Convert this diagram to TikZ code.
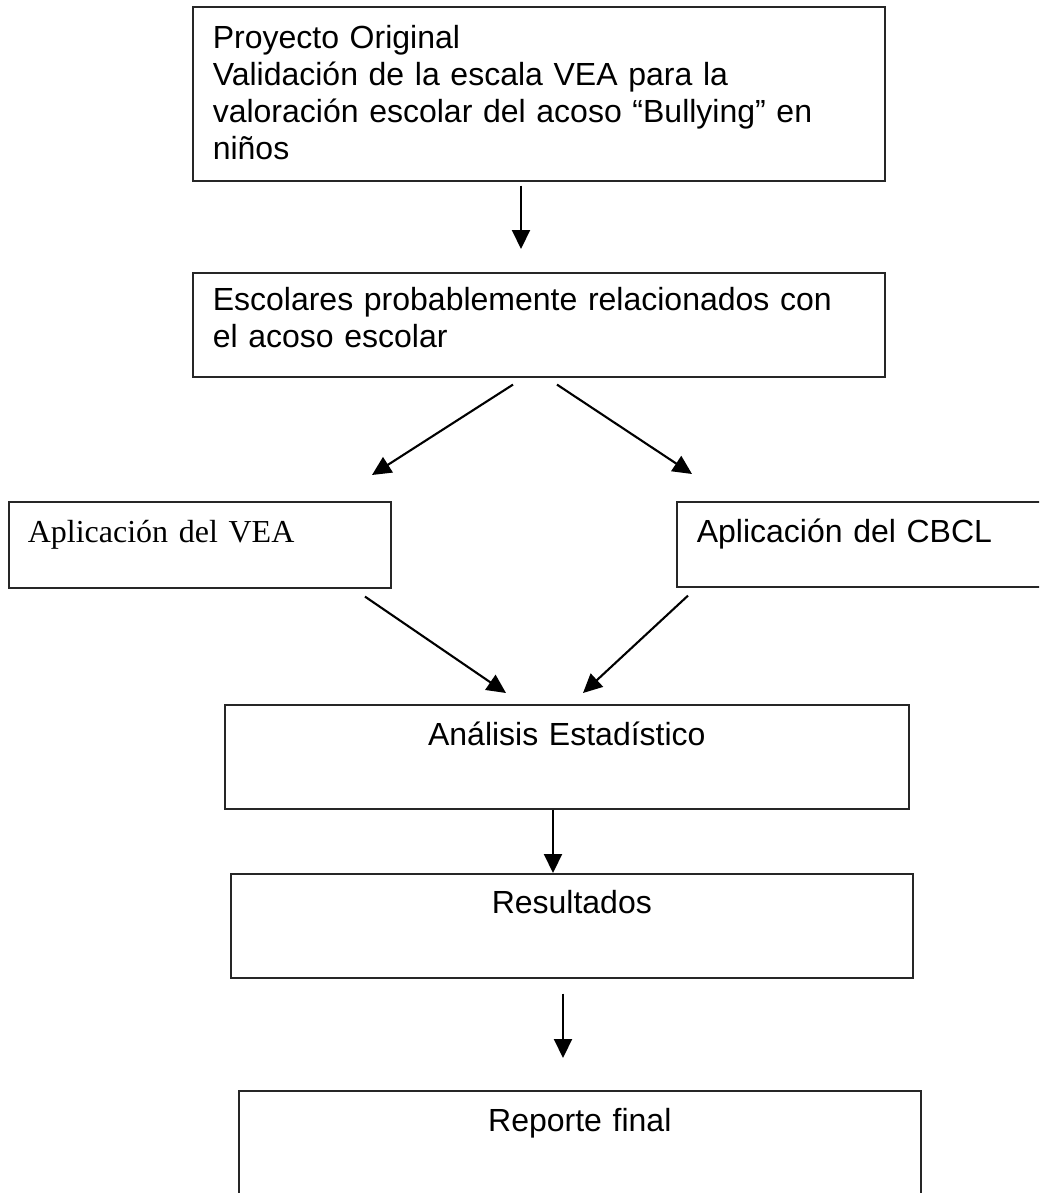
\documentclass[tikz,border=0pt]{standalone}
\usepackage{fontspec}
\setmainfont{Liberation Sans}
\newfontfamily\timesfont{Liberation Serif}
\usetikzlibrary{arrows.meta,calc}
\begin{document}
\begin{tikzpicture}[x=1pt,y=-1pt,
  box/.style={draw=black!85, line width=1.6pt, inner ysep=0pt, anchor=north west,
    font=\fontsize{32}{37}\selectfont},
  arr/.style={line width=2.1pt, -{Triangle[length=19pt,width=18pt]}}]
\useasboundingbox[fill=white] (0,0) rectangle (1039,1193);
\clip (0,0) rectangle (1039,1193);
\node[box, inner xsep=20pt, text width=652pt, align=left, text height=42pt, text depth=132pt] (b1) at (192,6)
  {Proyecto Original\\Validación de la escala VEA para la\\valoración escolar del acoso “Bullying” en\\niños};
\node[box, inner xsep=20pt, text width=652pt, align=left, text height=38pt, text depth=66pt] (b2) at (192,272)
  {Escolares probablemente relacionados con\\el acoso escolar};
\node[box, inner xsep=19pt, text width=344pt, align=left, text height=41pt, text depth=45pt,
  font=\timesfont\fontsize{32}{37}\selectfont] (vea) at (8,501) {Aplicación del VEA};
\node[box, inner xsep=20pt, text width=344pt, align=left, text height=41pt, text depth=44pt] (cbcl) at (676,501)
  {Aplicación del CBCL};
\node[box, inner xsep=0pt, text width=684pt, align=center, text height=41pt, text depth=63pt] (b5) at (224,704)
  {Análisis Estadístico};
\node[box, inner xsep=0pt, text width=682pt, align=center, text height=40pt, text depth=64pt] (b6) at (230,873)
  {Resultados};
\node[box, inner xsep=0pt, text width=682pt, align=center, text height=41pt, text depth=130pt] (b7) at (238,1090)
  {Reporte final};
\draw[arr] ([shift={(329,4)}]b1.south west) -- ([shift={(329,-23)}]b2.north west);
\draw[arr] ([shift={(321,7)}]b2.south west) -- ([shift={(364,-26)}]vea.north west);
\draw[arr] ([shift={(365,7)}]b2.south west) -- ([shift={(16,-27)}]cbcl.north west);
\draw[arr] ([shift={(357,8)}]vea.south west) -- ([shift={(282,-11)}]b5.north west);
\draw[arr] ([shift={(12,8)}]cbcl.south west) -- ([shift={(359,-11)}]b5.north west);
\draw[arr] ([shift={(329,0)}]b5.south west) -- ([shift={(323,0)}]b6.north west);
\draw[arr] ([shift={(333,15)}]b6.south west) -- ([shift={(325,-32)}]b7.north west);
\end{tikzpicture}
\end{document}
